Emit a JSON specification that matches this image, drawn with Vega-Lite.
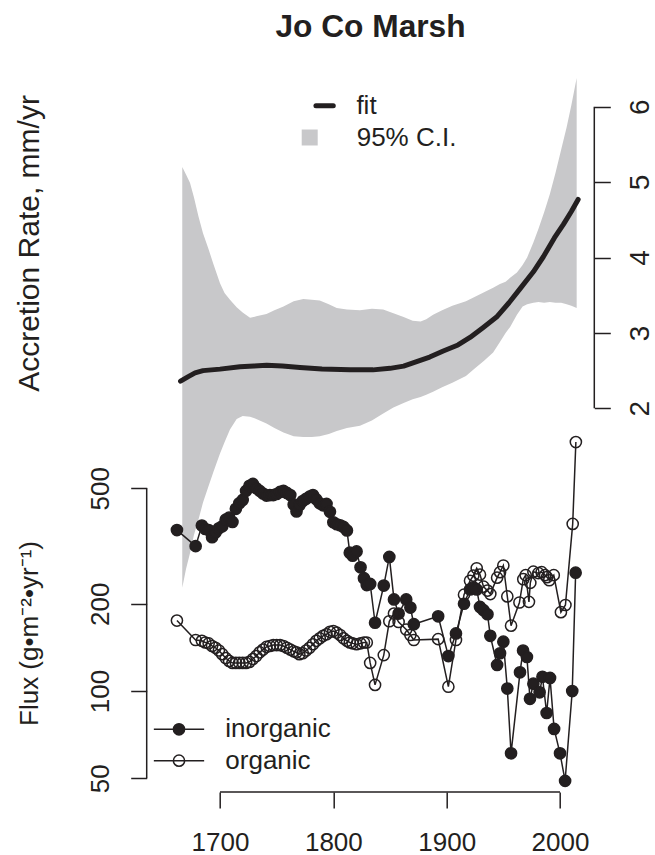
{
  "$schema": "https://vega.github.io/schema/vega-lite/v6.json",
  "width": 447.6,
  "height": 732,
  "autosize": {"type": "none"},
  "padding": {"left": 146.7, "top": 60, "right": 60.7, "bottom": 63},
  "background": "white",
  "title": {"text": "Jo Co Marsh", "fontSize": 31.7, "fontWeight": "bold", "font": "Liberation Sans", "color": "#231f20", "anchor": "middle", "frame": "group", "baseline": "alphabetic", "offset": 23.3, "dy": 32},
  "config": {
    "font": "Liberation Sans",
    "view": {"stroke": null},
    "axis": {"labelColor": "#231f20", "tickColor": "#231f20", "titleColor": "#231f20", "labelFont": "Liberation Sans", "titleFont": "Liberation Sans", "labelFontSize": 26, "titleFontSize": 26, "titleFontWeight": "normal", "grid": false, "domain": false, "tickSize": 16, "tickWidth": 1.5, "labelOverlap": false, "labelFlush": false, "labelBound": false},
    "legend": {"labelFont": "Liberation Sans", "labelFontSize": 26, "labelColor": "#231f20", "padding": 0, "symbolOpacity": 1}
  },
  "datasets": {
    "band": [
      {"year": 1666.7, "lo": -0.38, "hi": 5.20}, {"year": 1670, "lo": -0.13, "hi": 5.10}, {"year": 1673.5, "lo": 0.08, "hi": 4.99},
      {"year": 1677, "lo": 0.32, "hi": 4.80}, {"year": 1680.9, "lo": 0.52, "hi": 4.55}, {"year": 1685, "lo": 0.75, "hi": 4.32},
      {"year": 1689.7, "lo": 0.96, "hi": 4.12}, {"year": 1694, "lo": 1.15, "hi": 3.92}, {"year": 1700, "lo": 1.40, "hi": 3.66},
      {"year": 1704, "lo": 1.55, "hi": 3.53}, {"year": 1708.8, "lo": 1.72, "hi": 3.44}, {"year": 1714.7, "lo": 1.86, "hi": 3.34},
      {"year": 1720, "lo": 1.90, "hi": 3.27}, {"year": 1726.5, "lo": 1.89, "hi": 3.20}, {"year": 1732, "lo": 1.86, "hi": 3.22},
      {"year": 1741, "lo": 1.80, "hi": 3.25}, {"year": 1748, "lo": 1.74, "hi": 3.30}, {"year": 1756, "lo": 1.68, "hi": 3.35},
      {"year": 1765, "lo": 1.63, "hi": 3.42}, {"year": 1773.5, "lo": 1.62, "hi": 3.45}, {"year": 1781, "lo": 1.62, "hi": 3.44},
      {"year": 1788, "lo": 1.63, "hi": 3.43}, {"year": 1796, "lo": 1.66, "hi": 3.38}, {"year": 1803, "lo": 1.70, "hi": 3.33},
      {"year": 1812, "lo": 1.74, "hi": 3.31}, {"year": 1823.5, "lo": 1.77, "hi": 3.30}, {"year": 1834, "lo": 1.84, "hi": 3.32},
      {"year": 1844, "lo": 1.93, "hi": 3.31}, {"year": 1853, "lo": 2.01, "hi": 3.26}, {"year": 1862, "lo": 2.07, "hi": 3.21},
      {"year": 1870, "lo": 2.12, "hi": 3.16}, {"year": 1877, "lo": 2.15, "hi": 3.15}, {"year": 1882, "lo": 2.18, "hi": 3.18},
      {"year": 1888, "lo": 2.22, "hi": 3.24}, {"year": 1896, "lo": 2.28, "hi": 3.30}, {"year": 1905, "lo": 2.34, "hi": 3.36},
      {"year": 1917, "lo": 2.43, "hi": 3.42}, {"year": 1925, "lo": 2.53, "hi": 3.48}, {"year": 1933, "lo": 2.63, "hi": 3.54},
      {"year": 1941, "lo": 2.74, "hi": 3.60}, {"year": 1947, "lo": 2.88, "hi": 3.65}, {"year": 1952, "lo": 3.00, "hi": 3.68},
      {"year": 1956, "lo": 3.08, "hi": 3.73}, {"year": 1962, "lo": 3.24, "hi": 3.80}, {"year": 1967, "lo": 3.35, "hi": 3.90},
      {"year": 1971, "lo": 3.38, "hi": 4.00}, {"year": 1976.5, "lo": 3.40, "hi": 4.20}, {"year": 1981, "lo": 3.41, "hi": 4.38},
      {"year": 1986, "lo": 3.40, "hi": 4.60}, {"year": 1991, "lo": 3.41, "hi": 4.84}, {"year": 1996, "lo": 3.40, "hi": 5.12},
      {"year": 2001, "lo": 3.40, "hi": 5.43}, {"year": 2005.9, "lo": 3.38, "hi": 5.73}, {"year": 2010, "lo": 3.36, "hi": 6.02},
      {"year": 2014.7, "lo": 3.33, "hi": 6.38}
    ],
    "fit": [
      {"year": 1665.2, "rate": 2.36}, {"year": 1672, "rate": 2.42}, {"year": 1678, "rate": 2.47}, {"year": 1685, "rate": 2.50},
      {"year": 1700, "rate": 2.52}, {"year": 1717.6, "rate": 2.55}, {"year": 1730, "rate": 2.56}, {"year": 1741.2, "rate": 2.57},
      {"year": 1755, "rate": 2.56}, {"year": 1770.6, "rate": 2.54}, {"year": 1790, "rate": 2.52}, {"year": 1814.7, "rate": 2.51},
      {"year": 1835, "rate": 2.51}, {"year": 1850, "rate": 2.53}, {"year": 1862, "rate": 2.56}, {"year": 1873.5, "rate": 2.62},
      {"year": 1885, "rate": 2.68}, {"year": 1897, "rate": 2.76}, {"year": 1910, "rate": 2.84}, {"year": 1920.6, "rate": 2.94},
      {"year": 1932, "rate": 3.07}, {"year": 1944, "rate": 3.21}, {"year": 1955, "rate": 3.40}, {"year": 1965, "rate": 3.59},
      {"year": 1976.5, "rate": 3.81}, {"year": 1985.3, "rate": 4.01}, {"year": 1995, "rate": 4.26}, {"year": 2003, "rate": 4.44},
      {"year": 2010, "rate": 4.61}, {"year": 2016, "rate": 4.77}
    ],
    "frame": [{}],
    "flux": [
      {"year": 1662, "flux": 359, "type": "inorganic"}, {"year": 1678.5, "flux": 316, "type": "inorganic"}, {"year": 1684, "flux": 372, "type": "inorganic"},
      {"year": 1687, "flux": 362, "type": "inorganic"}, {"year": 1690, "flux": 359, "type": "inorganic"}, {"year": 1693, "flux": 339, "type": "inorganic"},
      {"year": 1696, "flux": 352, "type": "inorganic"}, {"year": 1699, "flux": 364, "type": "inorganic"}, {"year": 1702, "flux": 370, "type": "inorganic"},
      {"year": 1705, "flux": 390, "type": "inorganic"}, {"year": 1708, "flux": 396, "type": "inorganic"}, {"year": 1711, "flux": 383, "type": "inorganic"},
      {"year": 1714, "flux": 425, "type": "inorganic"}, {"year": 1717, "flux": 444, "type": "inorganic"}, {"year": 1720, "flux": 456, "type": "inorganic"},
      {"year": 1723, "flux": 490, "type": "inorganic"}, {"year": 1726, "flux": 510, "type": "inorganic"}, {"year": 1729, "flux": 518, "type": "inorganic"},
      {"year": 1732, "flux": 500, "type": "inorganic"}, {"year": 1735, "flux": 490, "type": "inorganic"}, {"year": 1738, "flux": 480, "type": "inorganic"},
      {"year": 1741, "flux": 472, "type": "inorganic"}, {"year": 1744, "flux": 474, "type": "inorganic"}, {"year": 1747, "flux": 474, "type": "inorganic"},
      {"year": 1750, "flux": 478, "type": "inorganic"}, {"year": 1753, "flux": 486, "type": "inorganic"}, {"year": 1756, "flux": 490, "type": "inorganic"},
      {"year": 1759, "flux": 482, "type": "inorganic"}, {"year": 1762, "flux": 474, "type": "inorganic"}, {"year": 1765, "flux": 440, "type": "inorganic"},
      {"year": 1767.5, "flux": 416, "type": "inorganic"}, {"year": 1770, "flux": 437, "type": "inorganic"}, {"year": 1773, "flux": 452, "type": "inorganic"},
      {"year": 1776, "flux": 460, "type": "inorganic"}, {"year": 1779, "flux": 468, "type": "inorganic"}, {"year": 1782, "flux": 474, "type": "inorganic"},
      {"year": 1785, "flux": 458, "type": "inorganic"}, {"year": 1788, "flux": 444, "type": "inorganic"}, {"year": 1791, "flux": 437, "type": "inorganic"},
      {"year": 1794, "flux": 442, "type": "inorganic"}, {"year": 1797, "flux": 415, "type": "inorganic"}, {"year": 1800, "flux": 382, "type": "inorganic"},
      {"year": 1803, "flux": 376, "type": "inorganic"}, {"year": 1806, "flux": 373, "type": "inorganic"}, {"year": 1809, "flux": 368, "type": "inorganic"},
      {"year": 1812, "flux": 358, "type": "inorganic"}, {"year": 1814.5, "flux": 300, "type": "inorganic"}, {"year": 1817, "flux": 293, "type": "inorganic"},
      {"year": 1820.5, "flux": 303, "type": "inorganic"}, {"year": 1824, "flux": 267, "type": "inorganic"}, {"year": 1827, "flux": 245, "type": "inorganic"},
      {"year": 1829.5, "flux": 232, "type": "inorganic"}, {"year": 1832.5, "flux": 234, "type": "inorganic"}, {"year": 1836.8, "flux": 172, "type": "inorganic"},
      {"year": 1844.5, "flux": 231, "type": "inorganic"}, {"year": 1849.4, "flux": 290, "type": "inorganic"}, {"year": 1853.5, "flux": 207, "type": "inorganic"},
      {"year": 1857.6, "flux": 185, "type": "inorganic"}, {"year": 1864.3, "flux": 207, "type": "inorganic"}, {"year": 1868, "flux": 194, "type": "inorganic"},
      {"year": 1871, "flux": 170, "type": "inorganic"}, {"year": 1892.5, "flux": 181, "type": "inorganic"}, {"year": 1901.5, "flux": 132, "type": "inorganic"},
      {"year": 1908.2, "flux": 158, "type": "inorganic"}, {"year": 1915.3, "flux": 200, "type": "inorganic"}, {"year": 1920.6, "flux": 224, "type": "inorganic"},
      {"year": 1923.5, "flux": 228, "type": "inorganic"}, {"year": 1926.5, "flux": 224, "type": "inorganic"}, {"year": 1929.4, "flux": 195, "type": "inorganic"},
      {"year": 1932.5, "flux": 190, "type": "inorganic"}, {"year": 1936, "flux": 184, "type": "inorganic"}, {"year": 1938.5, "flux": 155, "type": "inorganic"},
      {"year": 1944.5, "flux": 123, "type": "inorganic"}, {"year": 1947.1, "flux": 135, "type": "inorganic"}, {"year": 1950, "flux": 148, "type": "inorganic"},
      {"year": 1953.5, "flux": 102, "type": "inorganic"}, {"year": 1956.8, "flux": 61, "type": "inorganic"}, {"year": 1964.7, "flux": 116, "type": "inorganic"},
      {"year": 1967.4, "flux": 138, "type": "inorganic"}, {"year": 1970.8, "flux": 131, "type": "inorganic"}, {"year": 1973.5, "flux": 94, "type": "inorganic"},
      {"year": 1976.5, "flux": 106, "type": "inorganic"}, {"year": 1982, "flux": 99, "type": "inorganic"}, {"year": 1984.5, "flux": 112, "type": "inorganic"},
      {"year": 1988.2, "flux": 84, "type": "inorganic"}, {"year": 1991.2, "flux": 111, "type": "inorganic"}, {"year": 1994.8, "flux": 74, "type": "inorganic"},
      {"year": 2000, "flux": 61, "type": "inorganic"}, {"year": 2004.5, "flux": 49, "type": "inorganic"}, {"year": 2010.8, "flux": 100, "type": "inorganic"},
      {"year": 2013.8, "flux": 256, "type": "inorganic"},
      {"year": 1662, "flux": 175, "type": "organic"}, {"year": 1678.5, "flux": 150, "type": "organic"}, {"year": 1684, "flux": 149, "type": "organic"},
      {"year": 1687, "flux": 147, "type": "organic"}, {"year": 1690, "flux": 146, "type": "organic"}, {"year": 1693, "flux": 143, "type": "organic"},
      {"year": 1696, "flux": 141, "type": "organic"}, {"year": 1699, "flux": 138, "type": "organic"}, {"year": 1702, "flux": 134, "type": "organic"},
      {"year": 1705, "flux": 130, "type": "organic"}, {"year": 1708, "flux": 127, "type": "organic"}, {"year": 1711, "flux": 125, "type": "organic"},
      {"year": 1714, "flux": 125, "type": "organic"}, {"year": 1717, "flux": 125, "type": "organic"}, {"year": 1720, "flux": 125, "type": "organic"},
      {"year": 1723, "flux": 125, "type": "organic"}, {"year": 1726, "flux": 126, "type": "organic"}, {"year": 1729, "flux": 129, "type": "organic"},
      {"year": 1732, "flux": 132, "type": "organic"}, {"year": 1735, "flux": 136, "type": "organic"}, {"year": 1738, "flux": 139, "type": "organic"},
      {"year": 1741, "flux": 142, "type": "organic"}, {"year": 1744, "flux": 143, "type": "organic"}, {"year": 1747, "flux": 144, "type": "organic"},
      {"year": 1750, "flux": 144, "type": "organic"}, {"year": 1753, "flux": 144, "type": "organic"}, {"year": 1756, "flux": 143, "type": "organic"},
      {"year": 1759, "flux": 141, "type": "organic"}, {"year": 1762, "flux": 139, "type": "organic"}, {"year": 1765, "flux": 137, "type": "organic"},
      {"year": 1767.5, "flux": 136, "type": "organic"}, {"year": 1770, "flux": 134, "type": "organic"}, {"year": 1773, "flux": 135, "type": "organic"},
      {"year": 1776, "flux": 138, "type": "organic"}, {"year": 1779, "flux": 141, "type": "organic"}, {"year": 1782, "flux": 145, "type": "organic"},
      {"year": 1785, "flux": 149, "type": "organic"}, {"year": 1788, "flux": 152, "type": "organic"}, {"year": 1791, "flux": 155, "type": "organic"},
      {"year": 1794, "flux": 157, "type": "organic"}, {"year": 1797, "flux": 160, "type": "organic"}, {"year": 1800, "flux": 161, "type": "organic"},
      {"year": 1803, "flux": 159, "type": "organic"}, {"year": 1806, "flux": 156, "type": "organic"}, {"year": 1809, "flux": 152, "type": "organic"},
      {"year": 1812, "flux": 149, "type": "organic"}, {"year": 1814.5, "flux": 147, "type": "organic"}, {"year": 1817, "flux": 146, "type": "organic"},
      {"year": 1820.5, "flux": 145, "type": "organic"}, {"year": 1824, "flux": 146, "type": "organic"}, {"year": 1827, "flux": 147, "type": "organic"},
      {"year": 1829.5, "flux": 147, "type": "organic"}, {"year": 1832.5, "flux": 125, "type": "organic"}, {"year": 1836.8, "flux": 105, "type": "organic"},
      {"year": 1844.5, "flux": 133, "type": "organic"}, {"year": 1849.4, "flux": 174, "type": "organic"}, {"year": 1853.5, "flux": 185, "type": "organic"},
      {"year": 1857.6, "flux": 173, "type": "organic"}, {"year": 1864.3, "flux": 163, "type": "organic"}, {"year": 1868, "flux": 156, "type": "organic"},
      {"year": 1871, "flux": 150, "type": "organic"}, {"year": 1892.5, "flux": 151, "type": "organic"}, {"year": 1901.5, "flux": 103.5, "type": "organic"},
      {"year": 1908.2, "flux": 150, "type": "organic"}, {"year": 1915.3, "flux": 215, "type": "organic"}, {"year": 1920.6, "flux": 240, "type": "organic"},
      {"year": 1923.5, "flux": 250, "type": "organic"}, {"year": 1926.5, "flux": 265, "type": "organic"}, {"year": 1929.4, "flux": 252, "type": "organic"},
      {"year": 1932.5, "flux": 229, "type": "organic"}, {"year": 1936, "flux": 222, "type": "organic"}, {"year": 1938.5, "flux": 216, "type": "organic"},
      {"year": 1944.5, "flux": 246, "type": "organic"}, {"year": 1947.1, "flux": 257, "type": "organic"}, {"year": 1950, "flux": 271, "type": "organic"},
      {"year": 1953.5, "flux": 212, "type": "organic"}, {"year": 1956.8, "flux": 168, "type": "organic"}, {"year": 1964.2, "flux": 202, "type": "organic"},
      {"year": 1967.6, "flux": 243, "type": "organic"}, {"year": 1969.7, "flux": 251, "type": "organic"}, {"year": 1972.6, "flux": 203, "type": "organic"},
      {"year": 1973.8, "flux": 236, "type": "organic"}, {"year": 1976.5, "flux": 258, "type": "organic"}, {"year": 1980.9, "flux": 255, "type": "organic"},
      {"year": 1983.8, "flux": 257, "type": "organic"}, {"year": 1986.8, "flux": 251, "type": "organic"}, {"year": 1988.5, "flux": 247, "type": "organic"},
      {"year": 1990.5, "flux": 241, "type": "organic"}, {"year": 1994.5, "flux": 251, "type": "organic"}, {"year": 2000.8, "flux": 187, "type": "organic"},
      {"year": 2004.8, "flux": 198, "type": "organic"}, {"year": 2011.2, "flux": 377, "type": "organic"}, {"year": 2014, "flux": 722, "type": "organic"}
    ]
  },
  "layer": [
    {
      "layer": [
        {
          "data": {"name": "band"},
          "mark": {"type": "area", "opacity": 1},
          "encoding": {
            "x": {"field": "year", "type": "quantitative", "scale": {"domain": [1635.32, 2030.26], "nice": false, "zero": false},
                  "axis": {"values": [1700, 1800, 1900, 2000], "format": "d", "title": null, "labelPadding": 21}},
            "y": {"field": "lo", "type": "quantitative", "scale": {"domain": [-3.0873, 6.6188], "nice": false, "zero": false},
                  "axis": {"orient": "right", "values": [2, 3, 4, 5, 6], "format": "d", "labelAngle": -90, "labelAlign": "center", "labelBaseline": "alphabetic", "labelPadding": 38, "labelFontSize": 28,
                           "title": "Accretion Rate, mm/yr", "titleFontSize": 30, "titleAngle": -90, "titleAlign": "center", "titleBaseline": "alphabetic", "titleX": -556, "titleY": 183}},
            "y2": {"field": "hi"},
            "fill": {"datum": "95% C.I.", "scale": {"range": ["#c8c8ca"]},
                     "legend": {"title": null, "orient": "none", "legendX": 150, "legendY": 64.5, "symbolType": "square", "symbolSize": 256, "symbolStrokeWidth": 0, "labelOffset": 34}}
          }
        },
        {
          "data": {"name": "fit"},
          "mark": {"type": "line", "strokeWidth": 5, "strokeCap": "round", "strokeJoin": "round"},
          "encoding": {
            "x": {"field": "year", "type": "quantitative", "scale": {"domain": [1635.32, 2030.26], "nice": false, "zero": false},
                  "axis": {"values": [1700, 1800, 1900, 2000], "format": "d", "title": null, "labelPadding": 21}},
            "y": {"field": "rate", "type": "quantitative", "scale": {"domain": [-3.0873, 6.6188], "nice": false, "zero": false},
                  "axis": {"orient": "right", "values": [2, 3, 4, 5, 6], "format": "d", "labelAngle": -90, "labelAlign": "center", "labelBaseline": "alphabetic", "labelPadding": 38, "labelFontSize": 28,
                           "title": "Accretion Rate, mm/yr", "titleFontSize": 30, "titleAngle": -90, "titleAlign": "center", "titleBaseline": "alphabetic", "titleX": -556, "titleY": 183}},
            "stroke": {"datum": "fit", "scale": {"range": ["#231f20"]},
                       "legend": {"title": null, "orient": "none", "legendX": 164.9, "legendY": 32.7, "symbolType": "stroke", "symbolSize": 300, "symbolStrokeWidth": 5, "labelOffset": 18.8,
                                  "encode": {"symbols": {"update": {"strokeCap": {"value": "round"}}}}}}
          }
        },
        {
          "data": {"name": "frame"},
          "mark": {"type": "rule", "stroke": "#231f20", "strokeWidth": 1.5},
          "encoding": {
            "x": {"datum": 2030.26, "type": "quantitative", "scale": {"domain": [1635.32, 2030.26], "nice": false, "zero": false},
                  "axis": {"values": [1700, 1800, 1900, 2000], "format": "d", "title": null, "labelPadding": 21}},
            "y": {"datum": 2, "type": "quantitative", "scale": {"domain": [-3.0873, 6.6188], "nice": false, "zero": false},
                  "axis": {"orient": "right", "values": [2, 3, 4, 5, 6], "format": "d", "labelAngle": -90, "labelAlign": "center", "labelBaseline": "alphabetic", "labelPadding": 38, "labelFontSize": 28,
                           "title": "Accretion Rate, mm/yr", "titleFontSize": 30, "titleAngle": -90, "titleAlign": "center", "titleBaseline": "alphabetic", "titleX": -556, "titleY": 183}},
            "y2": {"datum": 6}
          }
        }
      ]
    },
    {
      "layer": [
        {
          "data": {"name": "flux"},
          "mark": {"type": "line", "stroke": "#231f20", "strokeWidth": 1.5},
          "encoding": {
            "x": {"field": "year", "type": "quantitative", "scale": {"domain": [1635.32, 2030.26], "nice": false, "zero": false},
                  "axis": {"values": [1700, 1800, 1900, 2000], "format": "d", "title": null, "labelPadding": 21}},
            "y": {"field": "flux", "type": "quantitative", "scale": {"type": "log", "domain": [44.86, 14995], "nice": false},
                  "axis": {"orient": "left", "values": [50, 100, 200, 500], "format": "d", "labelAngle": -90, "labelAlign": "center", "labelBaseline": "alphabetic", "labelPadding": 22,
                           "title": "Flux (g•m⁻²•yr⁻¹)", "titleAngle": -90, "titleAlign": "center", "titleBaseline": "alphabetic", "titleX": -109.4, "titleY": 573}},
            "detail": {"field": "type", "type": "nominal"}
          }
        },
        {
          "data": {"name": "flux"},
          "mark": {"type": "point", "shape": "circle", "size": 125, "strokeWidth": 1.5, "stroke": "#231f20", "opacity": 1, "filled": false},
          "encoding": {
            "x": {"field": "year", "type": "quantitative", "scale": {"domain": [1635.32, 2030.26], "nice": false, "zero": false},
                  "axis": {"values": [1700, 1800, 1900, 2000], "format": "d", "title": null, "labelPadding": 21}},
            "y": {"field": "flux", "type": "quantitative", "scale": {"type": "log", "domain": [44.86, 14995], "nice": false},
                  "axis": {"orient": "left", "values": [50, 100, 200, 500], "format": "d", "labelAngle": -90, "labelAlign": "center", "labelBaseline": "alphabetic", "labelPadding": 22,
                           "title": "Flux (g•m⁻²•yr⁻¹)", "titleAngle": -90, "titleAlign": "center", "titleBaseline": "alphabetic", "titleX": -109.4, "titleY": 573}},
            "fill": {"field": "type", "type": "nominal", "scale": {"domain": ["inorganic", "organic"], "range": ["#231f20", "transparent"]},
                     "legend": {"title": null, "orient": "none", "legendX": 19.3, "legendY": 656.3, "symbolType": "M-4.5,0H4.5M1,0A1,1,0,1,1,-1,0A1,1,0,1,1,1,0", "symbolSize": 125,
                                "symbolStrokeColor": "#231f20", "symbolStrokeWidth": 1.5, "labelOffset": 33.3, "rowPadding": 5.4}}
          }
        },
        {
          "data": {"name": "frame"},
          "mark": {"type": "rule", "stroke": "#231f20", "strokeWidth": 1.5},
          "encoding": {
            "x": {"datum": 1700, "type": "quantitative", "scale": {"domain": [1635.32, 2030.26], "nice": false, "zero": false},
                  "axis": {"values": [1700, 1800, 1900, 2000], "format": "d", "title": null, "labelPadding": 21}},
            "x2": {"datum": 2000},
            "y": {"datum": 44.86, "type": "quantitative", "scale": {"type": "log", "domain": [44.86, 14995], "nice": false},
                  "axis": {"orient": "left", "values": [50, 100, 200, 500], "format": "d", "labelAngle": -90, "labelAlign": "center", "labelBaseline": "alphabetic", "labelPadding": 22,
                           "title": "Flux (g•m⁻²•yr⁻¹)", "titleAngle": -90, "titleAlign": "center", "titleBaseline": "alphabetic", "titleX": -109.4, "titleY": 573}}
          }
        },
        {
          "data": {"name": "frame"},
          "mark": {"type": "rule", "stroke": "#231f20", "strokeWidth": 1.5},
          "encoding": {
            "x": {"datum": 1635.32, "type": "quantitative", "scale": {"domain": [1635.32, 2030.26], "nice": false, "zero": false},
                  "axis": {"values": [1700, 1800, 1900, 2000], "format": "d", "title": null, "labelPadding": 21}},
            "y": {"datum": 50, "type": "quantitative", "scale": {"type": "log", "domain": [44.86, 14995], "nice": false},
                  "axis": {"orient": "left", "values": [50, 100, 200, 500], "format": "d", "labelAngle": -90, "labelAlign": "center", "labelBaseline": "alphabetic", "labelPadding": 22,
                           "title": "Flux (g•m⁻²•yr⁻¹)", "titleAngle": -90, "titleAlign": "center", "titleBaseline": "alphabetic", "titleX": -109.4, "titleY": 573}},
            "y2": {"datum": 500}
          }
        }
      ]
    }
  ],
  "resolve": {"scale": {"y": "independent", "fill": "independent"}, "axis": {"y": "independent"}, "legend": {"fill": "independent"}}
}
